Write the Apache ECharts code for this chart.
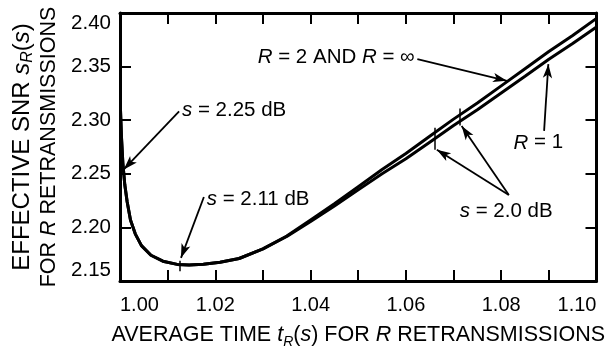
<!DOCTYPE html>
<html>
<head>
<meta charset="utf-8">
<title>Effective SNR vs average time</title>
<script src="https://cdn.jsdelivr.net/npm/echarts@6/dist/echarts.min.js"></script>
<style>
html, body, #main {
    margin: 0;
    padding: 0;
    width: 608px;
    height: 354px;
    background: #fff;
}
</style>
</head>
<body>
<div id="main"></div>
<script>
// average time t_R(s)
var tValues = [1.0001, 1.0003, 1.0006, 1.0010, 1.0015, 1.0022, 1.0032, 1.0045, 1.0065, 1.0090,
               1.0120, 1.0145, 1.0175, 1.0210, 1.0250, 1.0300, 1.0350, 1.0400, 1.0450, 1.0500,
               1.0550, 1.0600, 1.0650, 1.0700, 1.0750, 1.0800, 1.0850, 1.0900, 1.0950, 1.1000];
// effective SNR, R = 2 and R = infinity (upper line on the right)
var snrR2 = [2.310, 2.285, 2.260, 2.240, 2.224, 2.207, 2.194, 2.183, 2.174, 2.1685,
             2.1655, 2.165, 2.1657, 2.1675, 2.171, 2.180, 2.192, 2.207, 2.222, 2.238,
             2.254, 2.269, 2.285, 2.301, 2.316, 2.332, 2.348, 2.364, 2.379, 2.395];
// effective SNR, R = 1 (lower line on the right)
var snrR1 = [2.310, 2.285, 2.260, 2.240, 2.224, 2.207, 2.194, 2.183, 2.174, 2.1685,
             2.1655, 2.165, 2.1657, 2.1675, 2.171, 2.180, 2.1915, 2.2055, 2.220, 2.235,
             2.250, 2.264, 2.2795, 2.295, 2.3097, 2.3254, 2.341, 2.3568, 2.3715, 2.387];

var xTicks = [1.00, 1.10, 0.01];
var yTicks = [2.15, 2.40, 0.05];

// annotation arrows: [tail, tip] in data coords
var arrows = [
    [[1.0124, 2.3083], [1.0008, 2.2541]],   // s = 2.25 dB
    [[1.0176, 2.2284], [1.0128, 2.1716]],   // s = 2.11 dB
    [[1.0624, 2.3569], [1.0812, 2.3367]],   // R = 2 and R = inf
    [[1.0890, 2.2900], [1.0899, 2.3523]],   // R = 1
    [[1.0816, 2.2303], [1.0665, 2.2725]],   // s = 2.0 dB (a)
    [[1.0816, 2.2303], [1.0717, 2.2945]]    // s = 2.0 dB (b)
];
// small marks across the curves where s is read
var sMarks = [
    [[1.0126, 2.1690], [1.0126, 2.1590]],
    [[1.0661, 2.2930], [1.0661, 2.2725]],
    [[1.0712, 2.3110], [1.0712, 2.2950]]
];
var notes = [
    {text: '{i|s} = 2.25 dB', at: [1.0130, 2.3092]},
    {text: '{i|s} = 2.11 dB', at: [1.0182, 2.2266]},
    {text: '{i|R} = 2 AND {i|R} = \u221e', at: [1.0289, 2.3587]},
    {text: '{i|R} = 1', at: [1.0826, 2.2789]},
    {text: '{i|s} = 2.0 dB', at: [1.0713, 2.2147]}
];

var FONT = 'Liberation Sans, Arial, sans-serif';
var rich = {
    n: {fontFamily: FONT, fontSize: 21.5, color: '#000', lineHeight: 27},
    i: {fontFamily: FONT, fontSize: 21.5, color: '#000', fontStyle: 'italic', lineHeight: 27},
    sub: {fontFamily: FONT, fontSize: 14, color: '#000', fontStyle: 'italic', lineHeight: 27, verticalAlign: 'bottom'},
    n1: {fontFamily: FONT, fontSize: 24, color: '#000', lineHeight: 27},
    i1: {fontFamily: FONT, fontSize: 24, color: '#000', fontStyle: 'italic', lineHeight: 27},
    sub1: {fontFamily: FONT, fontSize: 16, color: '#000', fontStyle: 'italic', lineHeight: 27, verticalAlign: 'bottom'}
};
var noteRich = {
    i: {fontFamily: FONT, fontSize: 20.5, fill: '#000', fontStyle: 'italic'}
};

var chart = echarts.init(document.getElementById('main'));

function pairs(list) {
    return list.map(function (a) { return [{coord: a[0]}, {coord: a[1]}]; });
}
function zip(xs, ys) {
    return xs.map(function (x, i) { return [x, ys[i]]; });
}

var frameLine = {lineStyle: {color: '#000', width: 3}};
var tickIn = {inside: true, length: 11, lineStyle: {color: '#000', width: 2}};

var option = {
    animation: false,
    backgroundColor: '#fff',
    grid: {left: 120, right: 4, top: 13, bottom: 67},
    xAxis: [{
        type: 'value',
        min: xTicks[0], max: xTicks[1], interval: xTicks[2],
        axisLine: frameLine,
        axisTick: tickIn,
        splitLine: {show: false},
        axisLabel: {
            fontFamily: FONT, fontSize: 20, color: '#000', margin: 14,
            showMinLabel: true, showMaxLabel: true,
            alignMinLabel: 'left', alignMaxLabel: 'right',
            formatter: function (v) {
                return Math.round(v * 100) % 2 === 0 ? v.toFixed(2) : '';
            }
        },
        name: '{n|AVERAGE TIME }{i|t}{sub|R}{n|(}{i|s}{n|) FOR }{i|R}{n| RETRANSMISSIONS}',
        nameLocation: 'middle',
        nameGap: 41,
        nameTextStyle: {rich: rich}
    }, {
        type: 'value', position: 'top',
        min: xTicks[0], max: xTicks[1], interval: xTicks[2],
        axisLine: frameLine,
        axisTick: tickIn,
        axisLabel: {show: false},
        splitLine: {show: false}
    }],
    yAxis: [{
        type: 'value',
        min: yTicks[0], max: yTicks[1], interval: yTicks[2],
        axisLine: frameLine,
        axisTick: tickIn,
        splitLine: {show: false},
        axisLabel: {
            fontFamily: FONT, fontSize: 20.5, color: '#000', margin: 9,
            showMinLabel: true, showMaxLabel: true,
            verticalAlignMinLabel: 'bottom', verticalAlignMaxLabel: 'top',
            formatter: function (v) { return v.toFixed(2); }
        },
        name: '{n1|EFFECTIVE SNR }{i1|s}{sub1|R}{n1|(}{i1|s}{n1|)}\n{n|FOR }{i|R}{n| RETRANSMISSIONS}',
        nameLocation: 'middle',
        nameRotate: 90,
        nameGap: 56,
        nameTextStyle: {rich: rich}
    }, {
        type: 'value', position: 'right',
        min: yTicks[0], max: yTicks[1], interval: yTicks[2],
        axisLine: frameLine,
        axisTick: tickIn,
        axisLabel: {show: false},
        splitLine: {show: false}
    }],
    series: [{
        name: 'R = 2 and R = \u221e',
        type: 'line',
        data: zip(tValues, snrR2),
        showSymbol: false,
        lineStyle: {color: '#000', width: 3},
        markLine: {
            silent: true,
            symbol: ['none', 'arrow'],
            symbolSize: [7, 14],
            lineStyle: {color: '#000', width: 1.8, type: 'solid'},
            label: {show: false},
            data: pairs(arrows)
        }
    }, {
        name: 'R = 1',
        type: 'line',
        data: zip(tValues, snrR1),
        showSymbol: false,
        lineStyle: {color: '#000', width: 3},
        markLine: {
            silent: true,
            symbol: ['none', 'none'],
            lineStyle: {color: '#000', width: 1.5, type: 'solid'},
            label: {show: false},
            data: pairs(sMarks)
        }
    }]
};
chart.setOption(option);

chart.setOption({
    graphic: notes.map(function (nt) {
        var p = chart.convertToPixel({gridIndex: 0}, nt.at);
        return {
            type: 'text',
            x: p[0], y: p[1],
            style: {
                text: nt.text,
                fontFamily: FONT, fontSize: 20.5, fill: '#000',
                align: 'left', verticalAlign: 'middle',
                textAlign: 'left', textVerticalAlign: 'middle',
                rich: noteRich
            }
        };
    })
});
</script>
</body>
</html>
